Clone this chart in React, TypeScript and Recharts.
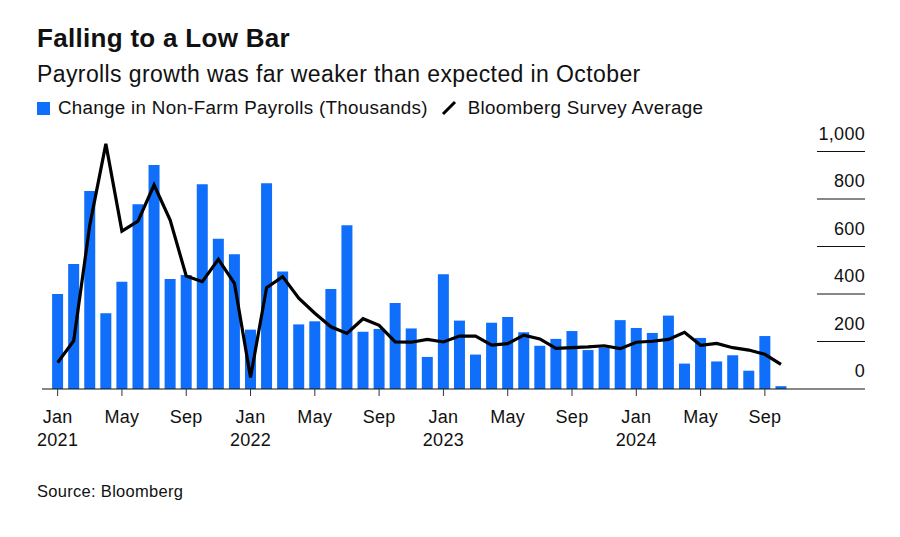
import { ComposedChart, Bar, Line, XAxis, YAxis } from "recharts";

const months = [
  "Jan 2021", "Feb 2021", "Mar 2021", "Apr 2021", "May 2021", "Jun 2021",
  "Jul 2021", "Aug 2021", "Sep 2021", "Oct 2021", "Nov 2021", "Dec 2021",
  "Jan 2022", "Feb 2022", "Mar 2022", "Apr 2022", "May 2022", "Jun 2022",
  "Jul 2022", "Aug 2022", "Sep 2022", "Oct 2022", "Nov 2022", "Dec 2022",
  "Jan 2023", "Feb 2023", "Mar 2023", "Apr 2023", "May 2023", "Jun 2023",
  "Jul 2023", "Aug 2023", "Sep 2023", "Oct 2023", "Nov 2023", "Dec 2023",
  "Jan 2024", "Feb 2024", "Mar 2024", "Apr 2024", "May 2024", "Jun 2024",
  "Jul 2024", "Aug 2024", "Sep 2024", "Oct 2024",
];

// change in non-farm payrolls, thousands
const payrolls = [
  400, 526, 834, 319, 452, 778, 943, 463, 480, 862, 633, 567,
  250, 866, 495, 272, 285, 421, 690, 241, 253, 362, 255, 135,
  483, 288, 145, 279, 303, 239, 182, 211, 244, 164, 175, 290,
  257, 236, 309, 107, 215, 116, 142, 77, 223, 12,
];

// bloomberg survey average
const survey = [
  111, 203, 690, 1032, 665, 707, 859, 711, 476, 452, 546, 445,
  49, 427, 473, 382, 319, 262, 234, 296, 268, 198, 197, 209,
  198, 223, 223, 185, 191, 227, 211, 171, 174, 177, 182, 170,
  197, 201, 209, 239, 184, 192, 174, 164, 146, 104,
];

const yTicks = [0, 200, 400, 600, 800, 1000];

const data = months.map((m, i) => ({ month: m, payrolls: payrolls[i], survey: survey[i] }));

const BLUE = "#0f6ffa";
const FONT = "'Liberation Sans', Arial, Helvetica, sans-serif";

function MonthTick(props: any) {
  const { x, y, payload } = props;
  const [mon, yr] = String(payload.value).split(" ");
  return (
    <g>
      <line x1={x} y1={y} x2={x} y2={y + 7} stroke="#333" strokeWidth={1} />
      <text x={x} y={y + 34} textAnchor="middle" fontSize={18} letterSpacing={0.3} fill="#111" fontFamily={FONT}>
        {mon}
      </text>
      {mon === "Jan" && (
        <text x={x} y={y + 57} textAnchor="middle" fontSize={18} letterSpacing={0.3} fill="#111" fontFamily={FONT}>
          {yr}
        </text>
      )}
    </g>
  );
}

function ValueTick(props: any) {
  const { x, y, payload } = props;
  return (
    <g>
      {payload.value !== 0 && <line x1={x - 48} y1={y} x2={x} y2={y} stroke="#111" strokeWidth={1} />}
      <text x={x} y={y - 12} textAnchor="end" fontSize={18} letterSpacing={0.3} fill="#111" fontFamily={FONT}>
        {payload.value.toLocaleString("en-US")}
      </text>
    </g>
  );
}

export default function App() {
  return (
    <div style={{ position: "absolute", left: 0, top: 0, width: 900, height: 537, background: "#fff", fontFamily: FONT, color: "#111" }}>
      <div style={{ position: "absolute", left: 37, top: 23, fontSize: 26, fontWeight: 700, letterSpacing: 0.3, whiteSpace: "nowrap" }}>
        Falling to a Low Bar
      </div>
      <div style={{ position: "absolute", left: 37, top: 61, fontSize: 23, letterSpacing: 0.4, whiteSpace: "nowrap" }}>
        Payrolls growth was far weaker than expected in October
      </div>
      <div style={{ position: "absolute", left: 37, top: 97, fontSize: 18.8, letterSpacing: 0.3, whiteSpace: "nowrap", display: "flex", alignItems: "center" }}>
        <span style={{ display: "inline-block", width: 13, height: 13, background: BLUE, marginRight: 8 }} />
        <span>Change in Non-Farm Payrolls (Thousands)</span>
        <svg width={16} height={16} style={{ marginLeft: 13, marginRight: 11 }}>
          <line x1={2} y1={14} x2={14} y2={2} stroke="#000" strokeWidth={3} />
        </svg>
        <span>Bloomberg Survey Average</span>
      </div>

      <div style={{ position: "absolute", left: 0, top: 0 }}>
        <ComposedChart
          width={900}
          height={470}
          data={data}
          margin={{ top: 127.75, right: 34, bottom: 21, left: 42 }}
          barCategoryGap={2.5}
        >
          <XAxis
            dataKey="month"
            interval={3}
            tickSize={0}
            tickMargin={0}
            tickLine={false}
            axisLine={{ stroke: "#111", strokeWidth: 1 }}
            padding={{ left: 7.6, right: 76 }}
            height={60}
            tick={<MonthTick />}
          />
          <YAxis
            orientation="right"
            width={1}
            domain={[0, 1100]}
            ticks={yTicks}
            tickSize={0}
            tickMargin={0}
            tickLine={false}
            axisLine={false}
            tick={<ValueTick />}
          />
          <Bar dataKey="payrolls" fill={BLUE} isAnimationActive={false} />
          <Line
            dataKey="survey"
            type="linear"
            stroke="#000"
            strokeWidth={3.2}
            dot={false}
            isAnimationActive={false}
          />
        </ComposedChart>
      </div>

      <div style={{ position: "absolute", left: 37, top: 482, fontSize: 16.5, letterSpacing: 0.3, whiteSpace: "nowrap" }}>
        Source: Bloomberg
      </div>
    </div>
  );
}
